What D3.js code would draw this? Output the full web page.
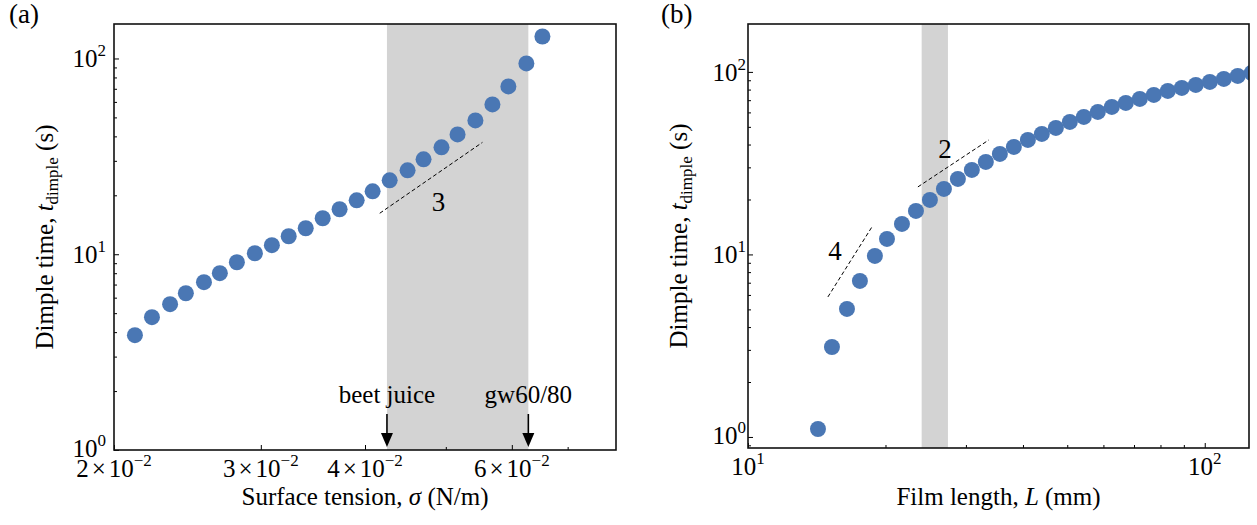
<!DOCTYPE html>
<html>
<head>
<meta charset="utf-8">
<script src="https://cdn.jsdelivr.net/npm/d3@7"></script>
<style>
body { margin: 0; background: #fff; }
svg { font-family: "Liberation Serif", "Times New Roman", serif; }
</style>
</head>
<body>
<svg id="chart" width="1257" height="525"></svg>
<script>
// ---- panel (a): dimple time vs surface tension
var sigma = [0.02119, 0.02221, 0.02335, 0.02439, 0.02564, 0.02679, 0.02808, 0.02951, 0.03093,
  0.03240, 0.03396, 0.03559, 0.03729, 0.03909, 0.04085, 0.04282, 0.04499, 0.04702, 0.04941,
  0.05165, 0.05426, 0.05687, 0.05943, 0.06246, 0.06529];
var tSigma = [3.86, 4.77, 5.56, 6.32, 7.20, 8.00, 9.10, 10.12, 11.12, 12.36, 13.57, 15.27, 16.97,
  18.86, 20.96, 23.85, 26.83, 30.52, 35.15, 40.95, 48.28, 58.26, 71.97, 94.3, 129.5];
var shadeA = [0.0425, 0.0628];
var fitA = [[0.04166, 16.19], [0.05532, 37.27]];
var fluids = ["beet juice", "gw60/80"];   // placed at the shade edges
var xTicksA = [0.02, 0.03, 0.04, 0.06];
var xTickLabelsA = ["2", "3", "4", "6"];
var xMinorA = [0.05, 0.07];

// ---- panel (b): dimple time vs film length
var filmL = [14.23, 15.27, 16.47, 17.58, 18.96, 20.15, 21.73, 23.32, 25.02, 26.85, 28.81, 30.91,
  33.17, 35.60, 38.20, 41.00, 43.99, 47.21, 50.66, 54.36, 58.34, 62.60, 67.18, 72.09, 77.36,
  83.01, 89.08, 95.59, 102.6, 110.1, 118.1, 126.7];
var tFilm = [1.106, 3.11, 5.03, 7.16, 9.81, 12.16, 14.69, 17.31, 19.89, 22.85, 25.93, 29.04,
  32.13, 35.53, 38.82, 42.41, 45.75, 49.33, 53.21, 56.67, 60.37, 64.31, 67.63, 71.13, 74.82,
  78.68, 81.72, 84.87, 88.15, 91.55, 95.08, 98.74, 101.3];
var shadeB = [24.0, 27.4];
var fitB4 = [[14.96, 5.85], [18.68, 14.15]];
var fitB2 = [[23.55, 23.44], [33.68, 42.41]];
var xTicksB = [10, 100];
var xTickExpB = ["1", "2"];
var xMinorB = [20, 30, 40, 50, 60, 70, 80, 90];

var yTicks = [1, 10, 100];
var yTickExp = ["0", "1", "2"];
var yMinor = [0.9, 2, 3, 4, 5, 6, 7, 8, 9, 20, 30, 40, 50, 60, 70, 80, 90];

var blue = "#4a77b4";
var shade = "#d3d3d3";

var svg = d3.select("#chart");

var xA = d3.scaleLog().domain([0.02, 0.08]).range([114, 616]);
var yA = d3.scaleLog().domain([1, 150]).range([450, 24]);
var xB = d3.scaleLog().domain([10, 125]).range([748, 1249]);
var yB = d3.scaleLog().domain([0.87, 183]).range([448, 24]);

// write text made of pieces (sup / sub / italic)
function richText(sel, parts) {
  parts.forEach(function(p) {
    var ts = sel.append("tspan").text(p.t);
    if (p.dx) ts.attr("dx", p.dx);
    if (p.dy) ts.attr("dy", p.dy);
    if (p.size) ts.attr("font-size", p.size);
    if (p.italic) ts.attr("font-style", "italic");
  });
}

function drawPanel(o) {
  var g = svg.append("g");
  var x = o.x, y = o.y;
  var x0 = x.range()[0], x1 = x.range()[1];
  var y0 = y.range()[0], y1 = y.range()[1];

  var clipId = "clip" + o.name;
  svg.append("clipPath").attr("id", clipId)
    .append("rect").attr("x", x0).attr("y", y1).attr("width", x1 - x0).attr("height", y0 - y1);

  var plot = g.append("g").attr("clip-path", "url(#" + clipId + ")");

  plot.append("rect")
    .attr("x", x(o.shade[0])).attr("y", y1)
    .attr("width", x(o.shade[1]) - x(o.shade[0]))
    .attr("height", y0 - y1)
    .attr("fill", shade);

  var line = d3.line().x(function(d) { return x(d[0]); }).y(function(d) { return y(d[1]); });
  o.fits.forEach(function(f) {
    plot.append("path").attr("d", line(f))
      .attr("fill", "none").attr("stroke", "#000")
      .attr("stroke-width", 1).attr("stroke-dasharray", "4,2.5");
  });

  plot.selectAll("circle").data(o.xs).enter().append("circle")
    .attr("cx", function(d) { return x(d); })
    .attr("cy", function(d, i) { return y(o.ys[i]); })
    .attr("r", 8)
    .attr("fill", blue);

  // ticks, pointing inward
  g.append("g").attr("transform", "translate(0," + y0 + ")")
    .call(d3.axisBottom(x).tickValues(o.xMajor).tickSize(-5).tickFormat(""));
  g.append("g").attr("transform", "translate(0," + y0 + ")")
    .call(d3.axisBottom(x).tickValues(o.xMinor).tickSize(-3).tickFormat(""));
  g.append("g").attr("transform", "translate(" + x0 + ",0)")
    .call(d3.axisLeft(y).tickValues(yTicks).tickSize(-5).tickFormat(""));
  g.append("g").attr("transform", "translate(" + x0 + ",0)")
    .call(d3.axisLeft(y).tickValues(yMinor.filter(function(v) {
      return v >= y.domain()[0] && v <= y.domain()[1];
    })).tickSize(-3).tickFormat(""));
  g.selectAll(".domain").remove();
  g.selectAll(".tick line").attr("stroke", "#000").attr("stroke-width", 1);

  g.append("rect")
    .attr("x", x0).attr("y", y1)
    .attr("width", x1 - x0).attr("height", y0 - y1)
    .attr("fill", "none").attr("stroke", "#111").attr("stroke-width", 1.6);

  // y tick labels
  yTicks.forEach(function(v, i) {
    var t = g.append("text")
      .attr("x", o.yLabelX).attr("y", y(v) + (v === 1 ? 7 : 9))
      .attr("text-anchor", "end").attr("font-size", 25);
    richText(t, [{t: "10"}, {t: yTickExp[i], size: 17, dy: -11}]);
  });

  // x tick labels
  o.xMajor.forEach(function(v, i) {
    var t = g.append("text")
      .attr("x", x(v)).attr("y", y0 + 27)
      .attr("text-anchor", "middle").attr("font-size", 25);
    richText(t, o.xTickParts(i));
  });

  // axis titles
  var xt = g.append("text")
    .attr("x", (x0 + x1) / 2).attr("y", 505)
    .attr("text-anchor", "middle").attr("font-size", 25);
  richText(xt, o.xTitle);

  var yt = g.append("text")
    .attr("transform", "translate(" + o.yTitleX + "," + (y0 + y1) / 2 + ") rotate(-90)")
    .attr("text-anchor", "middle").attr("font-size", 25);
  richText(yt, [{t: "Dimple time, "}, {t: "t", italic: true},
    {t: "dimple", size: 17, dy: 5}, {t: " (s)", dy: -5}]);

  g.append("text").attr("x", o.tagX).attr("y", 23).attr("font-size", 27).text(o.tag);

  return g;
}

var gA = drawPanel({
  name: "a", tag: "(a)", tagX: 9,
  x: xA, y: yA, xs: sigma, ys: tSigma, shade: shadeA, fits: [fitA],
  xMajor: xTicksA, xMinor: xMinorA, yLabelX: 106, yTitleX: 53,
  xTickParts: function(i) {
    return [{t: xTickLabelsA[i]}, {t: "×", dx: 3}, {t: "10", dx: 3}, {t: "−2", size: 17, dy: -11}];
  },
  xTitle: [{t: "Surface tension, "}, {t: "σ", italic: true}, {t: " (N/m)"}]
});

var gB = drawPanel({
  name: "b", tag: "(b)", tagX: 661,
  x: xB, y: yB, xs: filmL, ys: tFilm, shade: shadeB, fits: [fitB4, fitB2],
  xMajor: xTicksB, xMinor: xMinorB, yLabelX: 746, yTitleX: 687,
  xTickParts: function(i) {
    return [{t: "10"}, {t: xTickExpB[i], size: 17, dy: -11}];
  },
  xTitle: [{t: "Film length, "}, {t: "L", italic: true}, {t: " (mm)"}]
});

// slope labels
gA.append("text").attr("x", xA(0.0490)).attr("y", yA(16.6))
  .attr("text-anchor", "middle").attr("font-size", 27).text("3");
gB.append("text").attr("x", xB(15.5)).attr("y", yB(9.3))
  .attr("text-anchor", "middle").attr("font-size", 27).text("4");
gB.append("text").attr("x", xB(27.0)).attr("y", yB(33.8))
  .attr("text-anchor", "middle").attr("font-size", 27).text("2");

// fluid markers with arrows
fluids.forEach(function(name, i) {
  var px = xA(shadeA[i]);
  var base = yA.range()[0];
  gA.append("text").attr("x", px).attr("y", 403)
    .attr("text-anchor", "middle").attr("font-size", 25).text(name);
  gA.append("line").attr("x1", px).attr("x2", px).attr("y1", 414).attr("y2", base - 12)
    .attr("stroke", "#000").attr("stroke-width", 1.6);
  gA.append("path")
    .attr("d", "M" + (px - 6) + "," + (base - 17) + "L" + (px + 6) + "," + (base - 17) + "L" + px + "," + (base - 3) + "Z")
    .attr("fill", "#000");
});
</script>
</body>
</html>
